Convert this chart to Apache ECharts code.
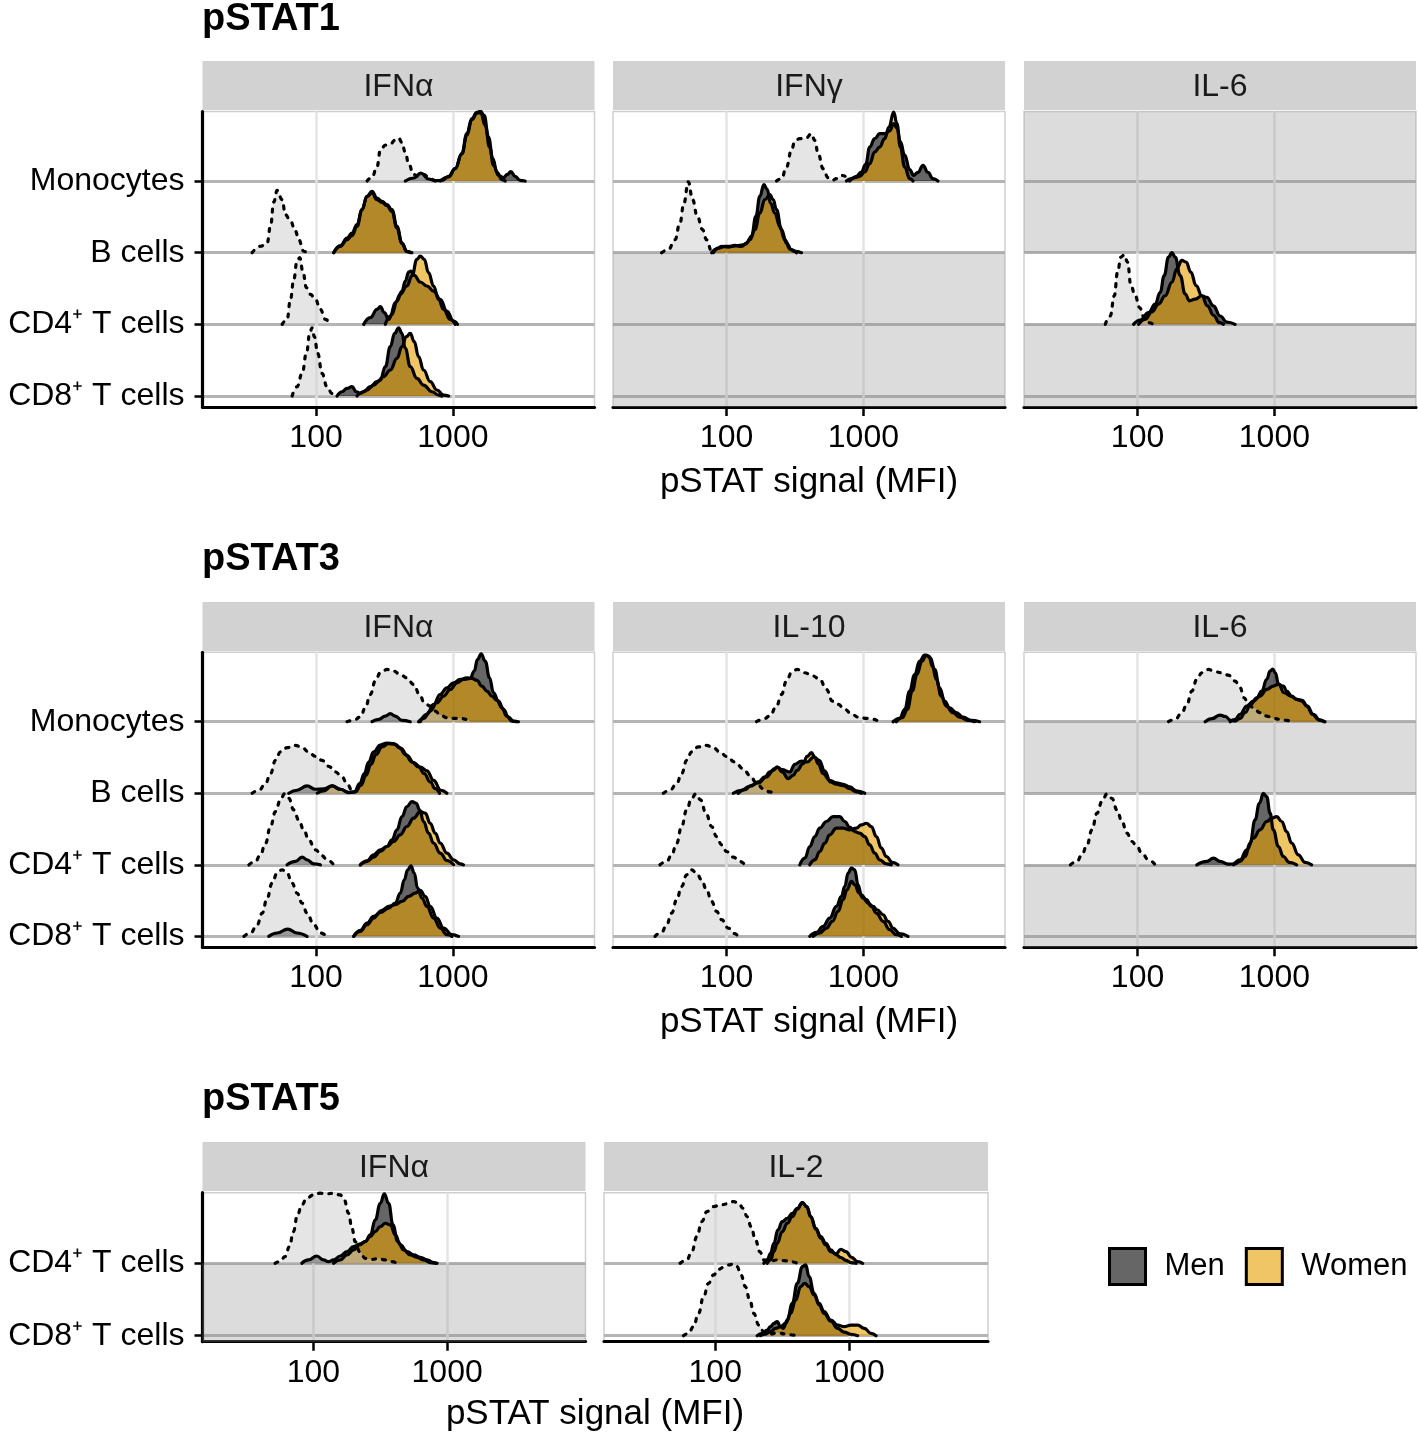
<!DOCTYPE html>
<html><head><meta charset="utf-8">
<script src="https://cdn.jsdelivr.net/npm/echarts@6/dist/echarts.min.js"></script>
<style>html,body{margin:0;padding:0;background:#fff}#c{width:1418px;height:1433px}</style>
</head><body><div id="c"></div>
<script>
// ---------- labels ----------
const sectionTitles = ['pSTAT1', 'pSTAT3', 'pSTAT5'];
const stimuli = [['IFNα', 'IFNγ', 'IL-6'], ['IFNα', 'IL-10', 'IL-6'], ['IFNα', 'IL-2']];
const cellLabels4 = ['CD8⁺ T cells', 'CD4⁺ T cells', 'B cells', 'Monocytes']; // index = ridge baseline
const cellLabels2 = ['CD8⁺ T cells', 'CD4⁺ T cells'];
const xTickValues = [100, 1000];
const axisTitle = 'pSTAT signal (MFI)';
const legendNames = ['Men', 'Women'];

// ---------- density curves: [MFI, relative height]; null = gap between separate bumps ----------
// pSTAT1 / IFNα
const p1a_mono_u = [[236,0],[256,.05],[279,.2],[295,.43],[321,.5],[349,.52],[379,.57],[401,.6],[424,.54],[449,.4],[475,.24],[516,.09],[561,.065],[611,.09],[683,.03],[743,0]];
const p1a_mono_m = [[449,0],[516,.042],[584,.112],[664,.028],[743,.005],[832,.009],[930,.065],[1040,.172],[1163,.381],[1265,.661],[1376,.87],[1497,.958],[1600,.949],[1722,.777],[1853,.474],[1981,.219],[2155,.079],[2343,.047],[2506,.093],[2650,.13],[2851,.065],[3101,.009],[3373,0]];
const p1a_mono_w = [[808,0],[930,.056],[1040,.172],[1163,.381],[1265,.637],[1376,.856],[1497,.944],[1583,.977],[1693,.916],[1821,.614],[1959,.312],[2095,.126],[2278,.019],[2410,0]];
const p1a_b_u = [[34.1,0],[39.2,.09],[43.9,.135],[46.4,.367],[49.1,.707],[51.9,.87],[56.5,.74],[59.7,.53],[65,.44],[70.7,.3],[74.7,.18],[81.3,.02],[85.9,0]];
const p1a_b_m = [[134.5,0],[150.5,.088],[168.3,.181],[183.1,.237],[199.2,.367],[216.6,.6],[235.6,.786],[256.3,.856],[278.8,.763],[303.2,.716],[329.8,.67],[358.7,.6],[390.1,.367],[424.4,.135],[461.5,.019],[502,0]];
const p1a_b_w = [[134.5,0],[150.5,.098],[168.3,.205],[183.1,.274],[199.2,.391],[216.6,.6],[235.6,.786],[256.3,.833],[278.8,.74],[303.2,.702],[329.8,.656],[358.7,.577],[390.1,.344],[424.4,.126],[461.5,.014],[488,0]];
const p1a_cd4_u = [[56.5,0],[61.4,.07],[65,.349],[68.7,.628],[72.6,.884],[76,.93],[80.4,.721],[85,.512],[90.9,.419],[98.9,.349],[107.5,.209],[117,.07],[127.2,0]];
const p1a_cd4_m = [[222.8,0],[249.2,.093],[278.8,.209],[294.8,.247],[315.4,.163],[339.1,.07],[358.7,.14],[390.1,.326],[424.4,.465],[449,.605],[475,.73],[493.7,.744],[522.1,.684],[577.5,.591],[646,.535],[722.6,.465],[808.3,.349],[904.2,.186],[1011,.047],[1082,0]];
const p1a_cd4_w = [[320.7,0],[348.8,.116],[379.3,.302],[412.6,.419],[461.5,.535],[502,.674],[546,.907],[577.5,.953],[617.8,.907],[664,.721],[722.6,.535],[785.6,.349],[854.9,.209],[956.3,.07],[1040,0]];
const p1a_cd8_u = [[66.8,0],[72.6,.13],[79.1,.316],[85,.595],[89.9,.874],[93.5,.953],[97.2,.828],[102.8,.595],[110.6,.316],[120.3,.13],[130.9,.037],[138.4,0]];
const p1a_cd8_m = [[142.3,0],[154.8,.06],[168.3,.107],[183.1,.13],[197,.06],[210.7,.037],[235.6,.084],[263.6,.153],[294.8,.223],[320.7,.409],[348.8,.688],[375,.874],[401.3,.953],[424.4,.874],[449,.665],[488,.409],[546,.246],[610.8,.153],[702.6,.06],[785.6,.014],[831,0]];
const p1a_cd8_w = [[199.2,0],[222.8,.06],[249.2,.13],[278.8,.2],[311.8,.27],[348.8,.363],[390.1,.526],[424.4,.688],[456.4,.828],[488,.874],[522,.758],[561.4,.549],[610.8,.363],[683.2,.2],[764.2,.084],[854.9,.014],[929.8,0]];
// pSTAT1 / IFNγ
const p1g_mono_u = [[231.7,0],[252,.033],[274,.195],[298,.428],[315.4,.558],[343,.591],[383.7,.605],[417,.66],[441.5,.567],[467,.381],[508,.172],[552,.047],[594,.009],[635,.033],[690.5,.079],[751,.065],[794,0]];
const p1g_mono_m = [[751,0],[817,.033],[889,.065],[966,.126],[1040,.233],[1112,.474],[1210,.591],[1316,.66],[1431,.66],[1556,.7],[1664,.8],[1759,.74],[1862,.55],[2004,.36],[2179,.16],[2328,.08],[2506,.12],[2727,.219],[2966,.12],[3226,.033],[3508,0]];
const p1g_mono_w = [[794,0],[865,.047],[940,.065],[1023,.126],[1112,.242],[1210,.405],[1316,.474],[1431,.591],[1538,.753],[1664,.963],[1759,.8],[1862,.474],[2004,.195],[2179,.033],[2305,0]];
const p1g_b_u = [[33.5,0],[37.5,.042],[42,.181],[45.6,.414],[48.8,.693],[52.5,.99],[56.5,.739],[61.1,.507],[66.8,.321],[71.4,.181],[77.8,.019],[82.2,0]];
const p1g_b_m = [[77.8,0],[84.5,.051],[92,.088],[102.8,.079],[115,.102],[128.6,.088],[140,.135],[152.2,.228],[163.7,.507],[175.1,.786],[187.4,.949],[198.1,.884],[209.5,.693],[225.3,.553],[245,.367],[266.5,.181],[290,.051],[315.4,.019],[353,0]];
const p1g_b_w = [[80,0],[86.9,.065],[97.2,.088],[108.7,.088],[121.6,.098],[136.1,.112],[148,.181],[161,.321],[175.1,.553],[190.4,.74],[207.2,.809],[219.1,.74],[231.7,.6],[252,.321],[274,.135],[298,.042],[324,0]];
// pSTAT1 / IL-6
const p1i_cd4_u = [[58.1,0],[63.1,.117],[67.6,.399],[71.4,.728],[75.6,.939],[80,.972],[84.5,.869],[89.4,.54],[96.2,.399],[103.4,.235],[111.9,.094],[120.3,.023],[130.9,0]];
const p1i_cd4_m = [[93.5,0],[104.6,.061],[120.3,.164],[134.5,.282],[146.3,.446],[156.6,.681],[168.3,.939],[178.1,1.0],[188.3,.939],[204.8,.681],[222.8,.423],[239.7,.329],[263.6,.352],[294.8,.399],[320.7,.376],[358.7,.258],[401.3,.117],[449,.033],[516.3,0]];
const p1i_cd4_w = [[101.7,0],[113.7,.07],[127.2,.174],[142.3,.282],[159.2,.399],[178.1,.587],[193.7,.775],[210.7,.892],[226.5,.869],[245,.728],[268,.54],[294.8,.399],[324,.258],[358.7,.127],[396.9,.023],[424.4,0]];
// pSTAT3 / IFNα
const p3a_mono_u = [[168.3,0],[188.3,.019],[210.7,.065],[229.2,.195],[249.2,.381],[271,.567],[294.8,.684],[329.8,.73],[368.9,.707],[412.6,.66],[461.5,.614],[516.3,.521],[571,.381],[617.8,.265],[683.2,.219],[743,.149],[808.3,.093],[904.2,.056],[1011,.047],[1131,.047],[1265,.033],[1338,0]];
const p3a_mono_m = [[256.3,0],[286.6,.033],[320.7,.079],[348.8,.112],[379.3,.079],[424.4,.019],[488,0],null,[561.4,0],[610.8,.047],[683.2,.149],[764.2,.265],[854.9,.358],[956.3,.451],[1070,.544],[1196,.591],[1338,.605],[1431,.707],[1514,.87],[1610,.949],[1722,.847],[1853,.614],[1981,.405],[2155,.288],[2343,.172],[2549,.065],[2772,.009],[3016,0]];
const p3a_mono_w = [[577.5,0],[646,.102],[722.6,.242],[808.3,.381],[904.2,.474],[1011,.544],[1131,.591],[1265,.614],[1376,.605],[1497,.577],[1628,.498],[1771,.428],[1926,.358],[2095,.298],[2278,.195],[2478,.079],[2696,.009],[2932,0]];
const p3a_b_u = [[34.1,0],[38.2,.042],[42.7,.135],[46.4,.274],[50.5,.46],[54.9,.577],[61.4,.637],[70.7,.67],[79.1,.637],[88.4,.577],[98.9,.516],[110.6,.46],[123.7,.377],[138.4,.298],[154.8,.228],[168.3,.135],[183.1,.042],[193.7,0]];
const p3a_b_m = [[63.2,0],[72.6,.042],[85.9,.102],[98.9,.056],[113.7,.06],[130.9,.102],[150.5,.056],[173,.009],[190.4,.019],[208.4,.135],[225.3,.274],[242.2,.437],[263.6,.577],[294.8,.674],[329.8,.702],[368.9,.693],[408,.637],[449,.544],[502,.437],[561.4,.367],[617.8,.274],[683.2,.158],[743,.065],[799,0]];
const p3a_b_w = [[101.7,0],[113.7,.033],[130.9,.102],[150.5,.056],[173,.014],[193.7,.019],[213,.112],[231.7,.251],[252,.405],[274,.54],[303.2,.647],[339.1,.693],[379.3,.684],[419.5,.623],[461.5,.53],[516.3,.428],[577.5,.367],[646,.312],[722.6,.181],[817,.042],[904.2,0]];
const p3a_cd4_u = [[32.3,0],[36,.047],[39.2,.14],[42.7,.302],[46.4,.535],[50.5,.744],[54.9,.907],[58.8,.991],[63.2,.93],[68.7,.767],[74.7,.628],[81.3,.488],[88.4,.349],[98.9,.209],[110.6,.126],[120.3,.07],[134.5,0]];
const p3a_cd4_m = [[61.4,0],[70.7,.047],[79.1,.107],[85.9,.07],[96.2,.014],[107.5,0],null,[210.7,0],[235.6,.047],[263.6,.107],[294.8,.186],[329.8,.256],[358.7,.349],[390.1,.488],[424.4,.674],[461.5,.814],[502,.884],[540,.86],[571,.767],[610.8,.605],[664,.442],[722.6,.302],[808.3,.163],[904.2,.06],[1011,0]];
const p3a_cd4_w = [[210.7,0],[235.6,.056],[263.6,.14],[294.8,.209],[329.8,.256],[368.9,.326],[412.6,.419],[461.5,.535],[516.3,.651],[577.5,.744],[628,.721],[683.2,.581],[743,.442],[808.3,.302],[904.2,.163],[1011,.07],[1131,.014],[1196,0]];
const p3a_cd8_u = [[29.7,0],[33.2,.047],[37.1,.163],[40.4,.326],[43.9,.535],[47.7,.744],[51.9,.884],[56.5,.93],[61.4,.884],[66.8,.744],[72.6,.605],[79.1,.465],[85.9,.326],[96.2,.163],[107.5,.047],[120.3,0]];
const p3a_cd8_m = [[45.1,0],[51.9,.047],[62.1,.102],[72.6,.047],[85.9,0],null,[188.3,0],[210.7,.07],[235.6,.163],[263.6,.256],[294.8,.335],[339.1,.395],[379.3,.465],[412.6,.605],[441.5,.791],[467,.93],[493.7,.986],[522,.884],[552,.674],[594,.535],[646,.419],[722.6,.256],[808.3,.116],[904.2,.023],[984,0]];
const p3a_cd8_w = [[188.3,0],[210.7,.084],[235.6,.186],[263.6,.279],[303.2,.363],[339.1,.419],[379.3,.442],[424.4,.488],[475,.558],[531,.605],[577.5,.642],[628,.558],[683.2,.419],[764.2,.256],[854.9,.116],[984,.023],[1100,0]];
// pSTAT3 / IL-10
const p3x_mono_u = [[165.5,0],[185.2,.033],[207.2,.079],[231.7,.219],[252,.381],[274,.567],[298,.684],[328,.73],[373.2,.684],[429.5,.637],[480,.591],[537,.451],[594,.288],[653,.242],[731,.172],[817,.112],[914,.065],[1052,.047],[1177,.033],[1316,.009],[1392,0]];
const p3x_mono_m = [[1647,0],[1841,.047],[2004,.172],[2179,.428],[2370,.66],[2577,.847],[2803,.93],[3016,.916],[3189,.777],[3412,.591],[3709,.358],[4034,.219],[4514,.126],[5050,.065],[5808,.019],[6498,0]];
const p3x_mono_w = [[1741,0],[1926,.056],[2095,.172],[2278,.428],[2464,.66],[2680,.847],[2884,.93],[3084,.893],[3319,.73],[3608,.474],[3924,.288],[4267,.195],[4774,.126],[5342,.065],[6142,.019],[7062,0]];
const p3x_b_u = [[34.5,0],[38.6,.042],[43.2,.135],[46.9,.274],[51.1,.46],[55.5,.577],[62.1,.647],[71.4,.67],[80,.637],[89.4,.577],[100,.516],[115,.437],[132.3,.344],[148,.251],[165.5,.144],[185.2,.065],[207.2,.019],[219.1,0]];
const p3x_b_m = [[111.9,0],[128.6,.042],[148,.098],[170.3,.144],[195.8,.228],[219.1,.321],[234.3,.367],[254.8,.33],[290,.298],[315.4,.405],[353,.451],[388,.437],[433.7,.507],[474.8,.46],[522,.312],[574.4,.158],[635,.126],[710.5,.107],[794,.065],[889,.019],[966,0]];
const p3x_b_w = [[121.6,0],[136.1,.051],[152.2,.112],[170.3,.158],[190.4,.228],[207.2,.298],[225.3,.344],[234.3,.367],[254.8,.298],[282,.205],[306.7,.251],[328,.321],[362.7,.414],[388,.516],[417,.567],[441.5,.507],[467,.414],[508,.274],[567.3,.181],[635,.144],[710.5,.126],[794,.088],[889,.033],[1023,0]];
const p3x_cd4_u = [[32.6,0],[36.5,.047],[39.7,.14],[43.2,.302],[46.9,.535],[51.1,.767],[55.5,.93],[59.7,.991],[64.6,.907],[70.7,.721],[77.8,.535],[84.5,.395],[92,.279],[100,.186],[111.9,.107],[125.1,.047],[136.1,0]];
const p3x_cd4_m = [[343,0],[373.2,.093],[405.8,.256],[441.5,.395],[480,.512],[537,.605],[600.6,.674],[671.9,.674],[731,.605],[794,.526],[865,.465],[940,.442],[1023,.395],[1112,.279],[1210,.163],[1316,.07],[1472,.014],[1600,0]];
const p3x_cd4_w = [[405.8,0],[441.5,.07],[480,.186],[522,.302],[567.3,.419],[635,.512],[710.5,.512],[794,.488],[889,.512],[966,.558],[1052,.581],[1143,.535],[1244,.395],[1353,.233],[1472,.116],[1628,.033],[1790,0]];
const p3x_cd8_u = [[30,0],[33.5,.056],[36.5,.163],[39.7,.326],[43.2,.512],[46.9,.698],[51.1,.86],[55.5,.93],[60.4,.884],[65.7,.791],[71.4,.651],[77.8,.488],[84.5,.349],[92,.233],[102.8,.116],[115,.037],[121.6,0]];
const p3x_cd8_m = [[405.8,0],[454,.056],[508,.14],[567.3,.256],[635,.419],[690.5,.558],[731,.698],[773,.884],[817,.953],[865,.93],[914,.721],[966,.581],[1052,.512],[1143,.419],[1244,.326],[1392,.209],[1556,.093],[1741,.023],[1893,0]];
const p3x_cd8_w = [[429.5,0],[480,.047],[537,.116],[594,.209],[653,.349],[710.5,.512],[760,.651],[817,.767],[865,.721],[930,.605],[994,.535],[1082,.465],[1177,.419],[1259,.372],[1392,.302],[1514,.209],[1647,.116],[1841,.037],[2118,0]];
// pSTAT3 / IL-6
const p3i_mono_u = [[168.3,0],[188.3,.033],[210.7,.126],[229.2,.242],[249.2,.428],[271,.591],[294.8,.684],[329.8,.73],[368.9,.698],[412.6,.684],[461.5,.651],[516.3,.567],[561.4,.474],[600.6,.335],[646,.242],[702.6,.195],[785.6,.126],[879,.079],[983,.047],[1100,.033],[1229,.019],[1338,0]];
const p3i_mono_m = [[311.8,0],[348.8,.042],[401.3,.093],[436.4,.074],[480,.019],[516.3,.009],[561.4,.047],[610.8,.126],[671.9,.242],[743,.335],[808.3,.428],[879,.591],[930,.707],[972,.735],[1017,.684],[1070,.53],[1177,.405],[1316,.358],[1456,.312],[1592,.298],[1741,.219],[1926,.102],[2155,.019],[2343,0]];
const p3i_mono_w = [[475,0],[516.3,.033],[561.4,.102],[628,.219],[702.6,.288],[785.6,.358],[879,.451],[983,.498],[1070,.521],[1163,.498],[1229,.428],[1338,.358],[1456,.312],[1583,.288],[1722,.219],[1904,.102],[2095,.028],[2305,0]];
const p3i_cd4_u = [[32.3,0],[36,.047],[39.2,.14],[42.7,.279],[46.4,.488],[50.5,.721],[54.9,.884],[59.7,.991],[65,.93],[70.7,.767],[76.9,.605],[83.6,.442],[90.9,.326],[98.9,.256],[107.5,.163],[120.3,.07],[134.5,0]];
const p3i_cd4_m = [[271,0],[320.7,.047],[358.7,.093],[401.3,.047],[461.5,.009],[516.3,.014],[561.4,.047],[610.8,.116],[664,.302],[722.6,.628],[776.9,.86],[831,1.0],[879,.953],[930,.721],[983,.488],[1070,.256],[1163,.116],[1285,.033],[1456,0]];
const p3i_cd4_w = [[502,0],[561.4,.07],[628,.209],[702.6,.372],[785.6,.488],[879,.605],[956.3,.651],[1040,.674],[1131,.605],[1229,.465],[1338,.302],[1497,.14],[1674,.033],[1873,0]];
// pSTAT5 / IFNα
const p5a_cd4_u = [[51.6,0],[56.2,.023],[61.3,.092],[66.1,.23],[70.8,.438],[75.9,.668],[81.8,.806],[89.1,.899],[100,.945],[112.2,.968],[125.9,.959],[141.3,.968],[158.5,.945],[169.8,.876],[183.2,.691],[193.9,.484],[205.4,.3],[221.3,.161],[244.1,.069],[273.8,.055],[307.3,.065],[344.7,.046],[386.8,.023],[421.7,0]];
const p5a_cd4_m = [[81.8,0],[91.7,.046],[105.9,.101],[118.9,.046],[129.6,.023],[141.3,.046],[158.5,.101],[177.8,.161],[199.5,.23],[223.9,.267],[244.1,.3],[266.1,.392],[290,.599],[316.2,.829],[338.8,.959],[365.2,.829],[393.6,.53],[426.6,.3],[473.2,.184],[530.9,.115],[595.7,.083],[668.3,.046],[749.9,.009],[817,0]];
const p5a_cd4_w = [[141.3,0],[158.5,.046],[177.8,.115],[199.5,.184],[221.3,.253],[244.1,.3],[266.1,.369],[290,.438],[316.2,.507],[344.7,.553],[375.8,.53],[409.7,.392],[446.7,.253],[501.2,.161],[562.3,.115],[631,.083],[707.9,.046],[794.3,.009],[841.4,0]];
// pSTAT5 / IL-2
const p5i_cd4_u = [[54.6,0],[61.3,.046],[66.8,.161],[72.9,.369],[79.4,.576],[86.6,.714],[97.2,.783],[109,.806],[122.4,.82],[137.2,.853],[149.6,.829],[161.2,.76],[172.8,.645],[185.1,.507],[199.5,.323],[215,.161],[230.4,.046],[258.5,.032],[290,.046],[325.4,.037],[365.2,.023],[409.7,0]];
const p5i_cd4_m = [[230.4,0],[244.1,.046],[258.5,.138],[273.8,.276],[293.4,.461],[316.2,.576],[344.7,.622],[375.8,.691],[409.7,.76],[446.7,.839],[481.5,.783],[515.8,.645],[562.3,.484],[613.1,.369],[668.3,.276],[728.6,.184],[794.3,.12],[866,.08],[944,.04],[1029,.01],[1122,0]];
const p5i_cd4_w = [[244.1,0],[258.5,.046],[273.8,.161],[290,.276],[316.2,.438],[344.7,.553],[375.8,.645],[409.7,.747],[446.7,.839],[481.5,.783],[515.8,.645],[562.3,.47],[613.1,.346],[668.3,.253],[728.6,.161],[794.3,.129],[866,.194],[944,.161],[1041,.083],[1155,.023],[1259,0]];
const p5i_cd8_u = [[57.9,0],[63.1,.032],[68.8,.124],[75,.309],[81.8,.539],[89.1,.724],[97.2,.839],[105.9,.917],[115.5,.945],[125.9,.977],[137.2,.991],[145.4,.954],[155.7,.839],[167.9,.677],[181,.493],[193.9,.309],[211.3,.147],[230.4,.055],[258.5,.023],[290,.041],[335,.023],[386.8,.009],[409.7,0]];
const p5i_cd8_m = [[205.4,0],[223.9,.032],[244.1,.078],[258.5,.124],[273.8,.171],[290,.194],[307.3,.124],[321.8,.101],[344.7,.217],[375.8,.447],[409.7,.724],[446.7,.954],[473.2,.977],[501.2,.816],[546.5,.585],[595.7,.424],[649.4,.309],[728.6,.2],[817.5,.1],[917.2,.05],[1029,.02],[1155,0]];
const p5i_cd8_w = [[217.6,0],[237.1,.023],[258.5,.055],[281.8,.101],[307.3,.124],[335,.171],[365.2,.309],[398.1,.493],[434,.677],[465.1,.724],[501.2,.677],[546.5,.562],[595.7,.447],[649.4,.332],[728.6,.217],[817.5,.147],[917.2,.124],[1029,.147],[1155,.147],[1296,.101],[1454,.032],[1585,0]];

// rows per panel, index = ridge baseline (0 = bottom); null = no data (grey band)
const panelRows = [
  [
    [[p1a_cd8_m, p1a_cd8_w, p1a_cd8_u], [p1a_cd4_m, p1a_cd4_w, p1a_cd4_u], [p1a_b_m, p1a_b_w, p1a_b_u], [p1a_mono_m, p1a_mono_w, p1a_mono_u]],
    [null, null, [p1g_b_m, p1g_b_w, p1g_b_u], [p1g_mono_m, p1g_mono_w, p1g_mono_u]],
    [null, [p1i_cd4_m, p1i_cd4_w, p1i_cd4_u], null, null]
  ],
  [
    [[p3a_cd8_m, p3a_cd8_w, p3a_cd8_u], [p3a_cd4_m, p3a_cd4_w, p3a_cd4_u], [p3a_b_m, p3a_b_w, p3a_b_u], [p3a_mono_m, p3a_mono_w, p3a_mono_u]],
    [[p3x_cd8_m, p3x_cd8_w, p3x_cd8_u], [p3x_cd4_m, p3x_cd4_w, p3x_cd4_u], [p3x_b_m, p3x_b_w, p3x_b_u], [p3x_mono_m, p3x_mono_w, p3x_mono_u]],
    [null, [p3i_cd4_m, p3i_cd4_w, p3i_cd4_u], null, [p3i_mono_m, p3i_mono_w, p3i_mono_u]]
  ],
  [
    [null, [p5a_cd4_m, p5a_cd4_w, p5a_cd4_u]],
    [[p5i_cd8_m, p5i_cd8_w, p5i_cd8_u], [p5i_cd4_m, p5i_cd4_w, p5i_cd4_u]]
  ]
];

// ---------- layout & style ----------
const FONT = '"Liberation Sans", Arial, Helvetica, sans-serif';
const X_MIN = 14.79, X_MAX = 10839;
const LAYOUT = [
  { titleY: 20, stripTop: 61, gridTop: 111.5, gridBottom: 407, yMin: -0.153, yMax: 3.97, axisTitleX: 809, axisTitleY: 482,
    cols: [[202.5, 392], [613, 392], [1024, 392]] },
  { titleY: 560, stripTop: 602, gridTop: 652.3, gridBottom: 947.3, yMin: -0.153, yMax: 3.97, axisTitleX: 809, axisTitleY: 1022,
    cols: [[202.5, 392], [613, 392], [1024, 392]] },
  { titleY: 1100, stripTop: 1142, gridTop: 1192.7, gridBottom: 1341.7, yMin: -0.083, yMax: 1.975, axisTitleX: 595, axisTitleY: 1414,
    cols: [[202.5, 383], [604, 384]] }
];
const STYLE = {
  m: { name: 'Men', fill: 'rgba(0,0,0,0.6)', dash: false },
  w: { name: 'Women', fill: 'rgba(230,159,0,0.6)', dash: false },
  u: { name: 'Unstimulated', fill: 'rgba(204,204,204,0.5)', dash: true }
};

const grids = [], xAxes = [], yAxes = [], series = [], graphics = [];
let gi = 0;

function densitySeries(g, pts, base, key) {
  const st = STYLE[key];
  return {
    type: 'line', name: st.name, xAxisIndex: g, yAxisIndex: g, z: 2,
    data: pts.map(p => p ? [p[0], base + p[1]] : ['-', '-']),
    connectNulls: false,
    smooth: 0.45, smoothMonotone: 'x', symbol: 'none', showSymbol: false, silent: true,
    lineStyle: { color: '#000', width: 3.2, type: st.dash ? [3, 7] : 'solid', cap: 'round', join: 'round' },
    itemStyle: { color: st.fill },
    areaStyle: { color: st.fill, origin: base, opacity: 1 }
  };
}

LAYOUT.forEach((sec, si) => {
  graphics.push({ type: 'text', x: 202, y: sec.titleY, z: 10,
    style: { text: sectionTitles[si], font: 'bold 38px ' + FONT, fill: '#000', textAlign: 'left', textVerticalAlign: 'middle', align: 'left', verticalAlign: 'middle' } });
  graphics.push({ type: 'text', x: sec.axisTitleX, y: sec.axisTitleY, z: 10,
    style: { text: axisTitle, font: '35px ' + FONT, fill: '#000', textAlign: 'center', textVerticalAlign: 'middle', align: 'center', verticalAlign: 'middle' } });
  const nRows = panelRows[si][0].length;
  const labels = nRows === 4 ? cellLabels4 : cellLabels2;
  const rowVals = labels.map((_, i) => i);
  sec.cols.forEach((col, ci) => {
    const [left, width] = col;
    graphics.push({ type: 'rect', z: 5, shape: { x: left, y: sec.stripTop, width: width, height: 49 }, style: { fill: '#d2d2d2' } });
    graphics.push({ type: 'text', x: left + width / 2, y: sec.stripTop + 26, z: 6,
      style: { text: stimuli[si][ci], font: '32px ' + FONT, fill: '#1a1a1a', textAlign: 'center', textVerticalAlign: 'middle', align: 'center', verticalAlign: 'middle' } });
    grids.push({ left: left, top: sec.gridTop, width: width, height: sec.gridBottom - sec.gridTop,
      show: true, backgroundColor: '#fff', borderColor: '#cfcfcf', borderWidth: 1.5 });
    xAxes.push({
      gridIndex: gi, type: 'log', logBase: 10, min: X_MIN, max: X_MAX,
      axisLine: { show: true, onZero: false, lineStyle: { color: '#000', width: 3.2 } },
      axisTick: { show: true, customValues: xTickValues, length: 9, lineStyle: { color: '#000', width: 2.5 } },
      axisLabel: { show: true, customValues: xTickValues, formatter: v => String(Math.round(v)), fontSize: 32, fontFamily: FONT, color: '#000', margin: 15 },
      splitLine: { show: true, lineStyle: { color: '#e4e4e4', width: 2.5 } },
      minorTick: { show: false }, minorSplitLine: { show: false }
    });
    yAxes.push({
      gridIndex: gi, type: 'value', min: sec.yMin, max: sec.yMax,
      axisLine: { show: ci === 0, onZero: false, lineStyle: { color: '#000', width: 3.2 } },
      axisTick: { show: ci === 0, customValues: rowVals, length: 8, lineStyle: { color: '#000', width: 2.5 } },
      axisLabel: { show: ci === 0, customValues: rowVals, formatter: v => labels[Math.round(v)] || '', fontSize: 32, fontFamily: FONT, color: '#000', margin: 18 },
      splitLine: { show: true, lineStyle: { color: '#b4b4b4', width: 3 } }
    });
    const rows = panelRows[si][ci];
    const bands = [];
    rows.forEach((r, idx) => {
      if (r === null) {
        const y0 = idx === 0 ? sec.yMin : idx;
        const y1 = idx === rows.length - 1 ? sec.yMax : idx + 1;
        bands.push([{ coord: [X_MIN, y0] }, { coord: [X_MAX, y1] }]);
      }
    });
    if (bands.length) {
      series.push({ type: 'line', name: 'band', xAxisIndex: gi, yAxisIndex: gi, z: 1, silent: true,
        data: [[X_MIN, sec.yMin - 5]], symbol: 'none', lineStyle: { width: 0 },
        markArea: { silent: true, itemStyle: { color: 'rgba(150,150,150,0.33)' }, label: { show: false }, data: bands } });
    }
    for (let idx = rows.length - 1; idx >= 0; idx--) {
      const r = rows[idx];
      if (!r) continue;
      series.push(densitySeries(gi, r[0], idx, 'm'));
      series.push(densitySeries(gi, r[1], idx, 'w'));
      series.push(densitySeries(gi, r[2], idx, 'u'));
    }
    gi++;
  });
});

const chart = echarts.init(document.getElementById('c'), null, { renderer: 'canvas' });
chart.setOption({
  animation: false,
  backgroundColor: '#fff',
  textStyle: { fontFamily: FONT },
  grid: grids, xAxis: xAxes, yAxis: yAxes, series: series, graphic: graphics,
  legend: {
    left: 1108, top: 1247, width: 310, padding: 0, orient: 'horizontal', icon: 'rect', itemWidth: 36, itemHeight: 36, itemGap: 20,
    selectedMode: false,
    textStyle: { fontSize: 31, color: '#000', fontFamily: FONT, padding: [0, 0, 0, 14] },
    data: [
      { name: legendNames[0], itemStyle: { color: STYLE.m.fill, borderColor: '#000', borderWidth: 3 } },
      { name: legendNames[1], itemStyle: { color: STYLE.w.fill, borderColor: '#000', borderWidth: 3 } }
    ]
  }
});
</script></body></html>
